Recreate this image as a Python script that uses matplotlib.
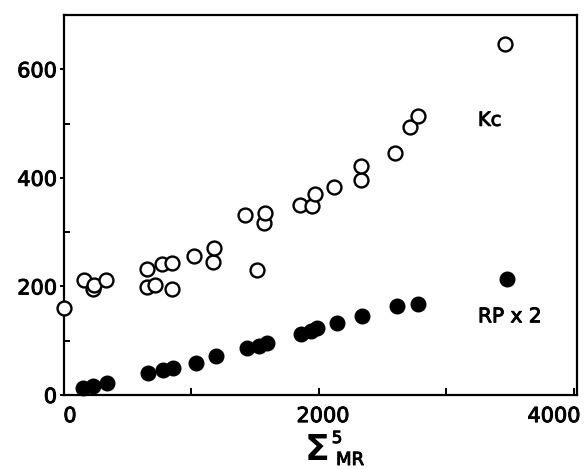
import matplotlib.pyplot as plt
import matplotlib.transforms as mtransforms
import matplotlib.patheffects as pe
from matplotlib.ticker import MultipleLocator, FixedLocator

# Kc (open circles)
kc_x = [0, 157, 228, 236, 331, 654, 654, 717, 772, 850, 850,
        1016, 1165, 1173, 1417, 1512, 1567, 1575,
        1850, 1945, 1969, 2118, 2331, 2331, 2598, 2717, 2780, 3457]
kc_y = [160, 212, 195, 203, 212, 232, 199, 203, 241, 243, 195,
        256, 245, 271, 331, 230, 317, 335,
        350, 348, 370, 383, 396, 422, 446, 494, 514, 646]

# RP x 2 (filled circles)
rp_x = [150, 228, 339, 661, 780, 858, 1039, 1189, 1433, 1528, 1591,
        1858, 1940, 1985, 2142, 2339, 2614, 2780, 3472]
rp_y = [13, 17, 22, 40, 46, 50, 59, 72, 87, 90, 96,
        112, 118, 123, 133, 145, 164, 168, 213]

x_ticks = [0, 2000, 4000]
x_tick_shift = [6, 4, -20]  # px, labels sit a bit off their ticks in the original
y_ticks = [0, 200, 400, 600]

plt.rcParams['font.family'] = ['DejaVu Sans']

# medium weight: normal glyphs with a thin outline
thick = [pe.withStroke(linewidth=0.7, foreground='black')]

fig = plt.figure(figsize=(5.87, 4.70), dpi=100)
ax = fig.add_axes([0.109, 0.1596, 0.874, 0.8085])

ax.plot(kc_x, kc_y, 'o', mfc='white', mec='black', mew=1.7, ms=10,
        linestyle='none', clip_on=False, zorder=3)
ax.plot(rp_x, rp_y, 'o', mfc='black', mec='black', ms=10.5,
        linestyle='none', clip_on=False, zorder=3)

ax.text(3247, 506, 'Kc', fontsize=14, ha='left', va='center', path_effects=thick)
ax.text(3247, 144, 'RP x 2', fontsize=14.5, ha='left', va='center', path_effects=thick)

ax.set_xlim(0, 4024)
ax.set_ylim(0, 700)
ax.xaxis.set_major_locator(FixedLocator(x_ticks))
ax.xaxis.set_minor_locator(MultipleLocator(1000))
ax.yaxis.set_major_locator(FixedLocator(y_ticks))
ax.yaxis.set_minor_locator(MultipleLocator(100))

ax.tick_params(axis='x', which='both', direction='in', width=1.4, length=5,
               labelsize=15, pad=8)
ax.tick_params(axis='y', which='major', direction='out', width=1.4, length=3,
               labelsize=15, pad=2)
ax.tick_params(axis='y', which='minor', direction='in', width=1.4, length=4)
for s in ax.spines.values():
    s.set_linewidth(1.6)

for tick, dx in zip(ax.xaxis.get_major_ticks(), x_tick_shift):
    off = mtransforms.ScaledTranslation(dx / 100, 0, fig.dpi_scale_trans)
    tick.label1.set_transform(tick.label1.get_transform() + off)
for lab in ax.get_xticklabels() + ax.get_yticklabels():
    lab.set_path_effects(thick)

# x label: big sigma with small super/subscript
fig.text(317.5 / 587, 1 - 450 / 470, '\u03a3', fontsize=26, fontweight='bold',
         ha='center', va='center')
fig.text(337 / 587, 1 - 438 / 470, '5', fontsize=12, ha='center', va='center',
         path_effects=thick)
fig.text(350 / 587, 1 - 460 / 470, 'MR', fontsize=13, ha='center', va='center',
         path_effects=thick)

fig.savefig('out.png', dpi=100)
